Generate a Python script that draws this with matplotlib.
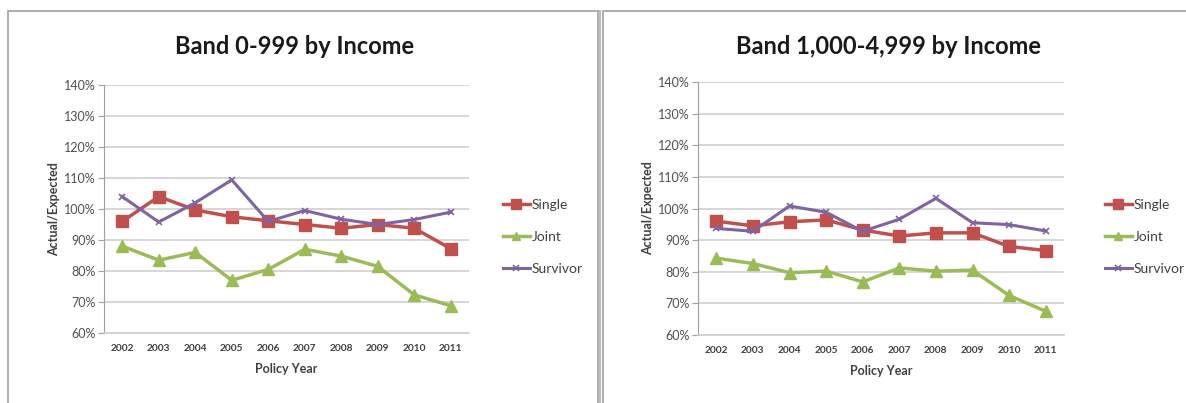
import matplotlib
matplotlib.use("Agg")
import matplotlib.pyplot as plt
from matplotlib.patches import Rectangle
from matplotlib.lines import Line2D
from matplotlib.ticker import FuncFormatter

plt.rcParams['font.family'] = ['Lato', 'DejaVu Sans']

years = ['2002', '2003', '2004', '2005', '2006', '2007', '2008', '2009', '2010', '2011']

# Band 0-999 (actual / expected, %)
band1_single = [96, 104, 99.7, 97.5, 96.2, 95, 93.8, 95, 93.8, 87.2]
band1_joint = [88, 83.5, 86, 77, 80.5, 87, 84.8, 81.5, 72.3, 68.8]
band1_survivor = [104, 95.8, 102, 109.4, 96, 99.5, 96.7, 95, 96.6, 99]

# Band 1,000-4,999 (actual / expected, %)
band2_single = [96, 94.5, 95.8, 96.4, 93.2, 91.3, 92.3, 92.3, 88, 86.7]
band2_joint = [84.3, 82.6, 79.7, 80.2, 76.8, 81.2, 80.2, 80.5, 72.5, 67.5]
band2_survivor = [93.7, 92.8, 100.8, 98.8, 92.8, 96.6, 103.2, 95.5, 94.9, 92.9]

titles = ['Band 0-999 by Income', 'Band 1,000-4,999 by Income']
series_names = ['Single', 'Joint', 'Survivor']

RED = '#C0504D'
GREEN = '#9BBB59'
PURPLE = '#8064A2'
GRID = '#D0D0D0'
TEXT = '#404040'

W, H = 1186, 403
fig = plt.figure(figsize=(W / 100, H / 100), dpi=100)
fig.patch.set_facecolor('white')


def fx(px):
    return px / W


def fy(py):
    return 1 - py / H


# chart frames
frame_kw = dict(transform=fig.transFigure, fill=False, edgecolor='#A8A8A8', linewidth=1.3)
fig.patches.append(Rectangle((fx(8), fy(420)), fx(598 - 8), fy(11) - fy(420), **frame_kw))
fig.patches.append(Rectangle((fx(603), fy(420)), fx(1200 - 603), fy(11) - fy(420), **frame_kw))
fig.add_artist(Line2D([fx(600.5), fx(600.5)], [0, fy(11)], transform=fig.transFigure,
                      color='#BDBDBD', linewidth=1.5))

panels = [
    dict(data=(band1_single, band1_joint, band1_survivor), title=titles[0],
         left=104, right=469, top=85, bottom=333, title_y=47, legend_x=490),
    dict(data=(band2_single, band2_joint, band2_survivor), title=titles[1],
         left=698, right=1064, top=82, bottom=335, title_y=46, legend_x=1092),
]

pct = FuncFormatter(lambda v, _: f'{v:.0f}%')

for p in panels:
    ax = fig.add_axes([fx(p['left']), fy(p['bottom']),
                       fx(p['right'] - p['left']), fy(p['top']) - fy(p['bottom'])])
    x = range(len(years))
    single, joint, survivor = p['data']
    ax.plot(x, single, color=RED, linewidth=2.5, marker='s', markersize=9,
            markeredgecolor=RED, label='Single', zorder=3)
    ax.plot(x, joint, color=GREEN, linewidth=2.5, marker='^', markersize=8.5,
            markeredgecolor=GREEN, label='Joint', zorder=3)
    ax.plot(x, survivor, color=PURPLE, linewidth=2.2, marker='x', markersize=5,
            markeredgewidth=1.2, label='Survivor', zorder=4)

    ax.set_xlim(-0.5, len(years) - 0.5)
    ax.set_ylim(60, 140)
    ax.set_yticks(range(60, 141, 10))
    ax.yaxis.set_major_formatter(pct)
    ax.set_xticks(list(x))
    ax.set_xticklabels(years, fontsize=7.3, fontweight='bold', color=TEXT)
    ax.tick_params(axis='y', labelsize=9, labelcolor='#505050', length=4, color='#A0A0A0',
                   width=0.8, pad=2)
    ax.tick_params(axis='x', length=0, pad=8)
    ax.grid(axis='y', color=GRID, linewidth=1.2)
    ax.set_axisbelow(True)
    for s in ('top', 'right'):
        ax.spines[s].set_visible(False)
    ax.spines['left'].set_color('#A0A0A0')
    ax.spines['left'].set_linewidth(0.8)
    ax.spines['bottom'].set_color(GRID)
    ax.spines['bottom'].set_linewidth(1.2)

    ax.set_xlabel('Policy Year', fontsize=9, fontweight='bold', color=TEXT, labelpad=7)
    ax.set_ylabel('Actual/Expected', fontsize=9, fontweight='bold', color=TEXT, labelpad=3)

    cx = fx((p['left'] + p['right']) / 2 + 8)
    fig.text(cx, fy(p['title_y']), p['title'], fontsize=17, fontweight='bold',
             color='#1a1a1a', ha='center', va='center')

    ax.legend(loc='center left', bbox_to_anchor=(fx(p['legend_x']), fy(237)),
              bbox_transform=fig.transFigure, frameon=False, fontsize=10,
              handlelength=2.0, handletextpad=0.1, labelspacing=1.45,
              labelcolor='#404040', markerscale=0.75)

fig.savefig('out.png', dpi=100, facecolor='white')
